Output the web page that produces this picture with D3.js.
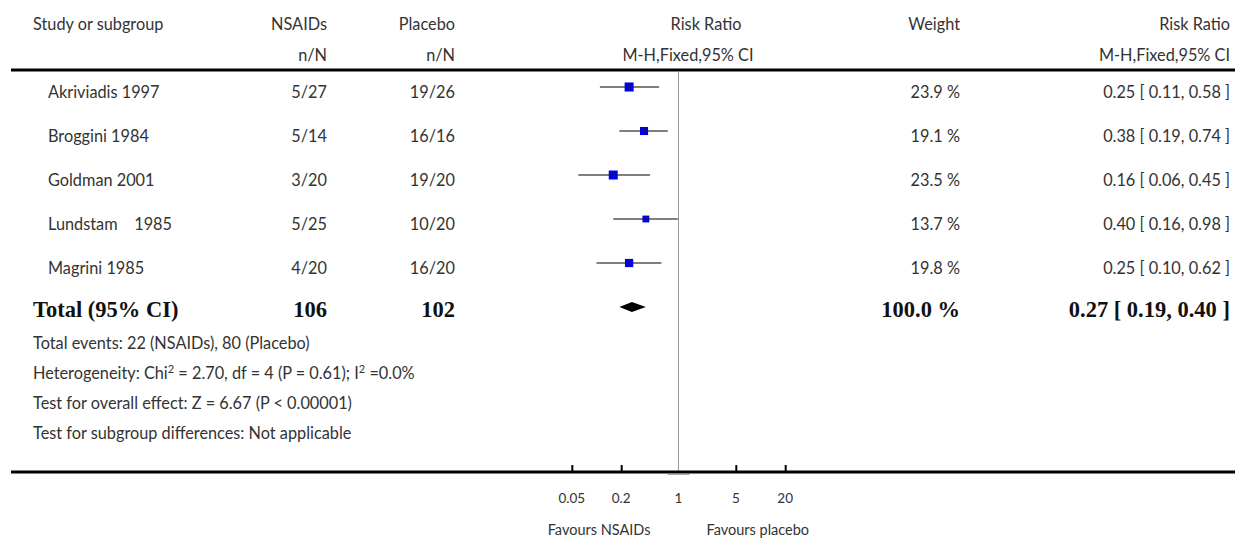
<!DOCTYPE html>
<html>
<head>
<meta charset="utf-8">
<script src="https://cdn.jsdelivr.net/npm/d3@7"></script>
<style>
  body { margin: 0; background: #fff; }
  svg text { font-family: Lato, "Open Sans", sans-serif; fill: #333; white-space: pre; }
  svg text.bold { font-family: "Liberation Serif", serif; font-weight: bold; fill: #111; }
</style>
</head>
<body>
<svg id="plot" width="1235" height="540"></svg>
<script>
const studies = ['Akriviadis 1997', 'Broggini 1984', 'Goldman 2001', 'Lundstam    1985', 'Magrini 1985'];
const nsaidEvents = ['5/27', '5/14', '3/20', '5/25', '4/20'];
const placeboEvents = ['19/26', '16/16', '19/20', '10/20', '16/20'];
const riskRatio = [0.25, 0.38, 0.16, 0.40, 0.25];
const ciLow = [0.11, 0.19, 0.06, 0.16, 0.10];
const ciHigh = [0.58, 0.74, 0.45, 0.98, 0.62];
const weights = [23.9, 19.1, 23.5, 13.7, 19.8];

const total = { label: 'Total (95% CI)', nsaids: '106', placebo: '102', weight: '100.0 %', rr: 0.27, lo: 0.19, hi: 0.40 };
const notes = [
  'Total events: 22 (NSAIDs), 80 (Placebo)',
  'Heterogeneity: Chi² = 2.70, df = 4 (P = 0.61); I² =0.0%',
  'Test for overall effect: Z = 6.67 (P < 0.00001)',
  'Test for subgroup differences: Not applicable'
];
const tickValues = [0.05, 0.2, 1, 5, 20];
const tickLabels = ['0.05', '0.2', '1', '5', '20'];

const svg = d3.select('#plot');
const fmt = d3.format('.2f');

// columns
const colStudy = 33, colStudyIndent = 48, colNsaid = 327, colPlacebo = 455, colWeight = 960, colRR = 1230;
const rowY = d3.scalePoint().domain(d3.range(studies.length + 1)).range([87, 307]);
const topRule = 70, axisY = 472;
const fs = 16.3, bfs = 22.5;

const x = d3.scaleLog().domain([0.01, 100]).range([514.5, 842.5]);

function txt(xp, yp, s, anchor, size, cls) {
  return svg.append('text')
    .attr('x', xp).attr('y', yp)
    .attr('text-anchor', anchor || 'start')
    .attr('font-size', size || fs)
    .attr('class', cls || null)
    .text(s);
}

// header
txt(colStudy, 30, 'Study or subgroup');
txt(colNsaid, 30, 'NSAIDs', 'end');
txt(colPlacebo, 30, 'Placebo', 'end');
txt(706, 30, 'Risk Ratio', 'middle');
txt(colWeight, 30, 'Weight', 'end');
txt(colRR, 30, 'Risk Ratio', 'end');
txt(colNsaid, 61, 'n/N', 'end');
txt(colPlacebo, 61, 'n/N', 'end');
txt(688, 61, 'M-H,Fixed,95% CI', 'middle');
txt(colRR, 61, 'M-H,Fixed,95% CI', 'end');

// rules
svg.append('line').attr('x1', 11).attr('x2', 1235).attr('y1', topRule).attr('y2', topRule)
  .attr('stroke', '#000').attr('stroke-width', 3);

// line of no effect
svg.append('line').attr('x1', x(1)).attr('x2', x(1)).attr('y1', topRule + 1).attr('y2', axisY)
  .attr('stroke', '#999').attr('stroke-width', 1);

// study rows
studies.forEach((s, i) => {
  const y = rowY(i);
  txt(colStudyIndent, y + 11, s);
  txt(colNsaid, y + 11, nsaidEvents[i], 'end');
  txt(colPlacebo, y + 11, placeboEvents[i], 'end');
  txt(colWeight, y + 11, weights[i].toFixed(1) + ' %', 'end');
  txt(colRR, y + 11, `${fmt(riskRatio[i])} [ ${fmt(ciLow[i])}, ${fmt(ciHigh[i])} ]`, 'end');
});

const g = svg.append('g');
g.selectAll('.ci').data(studies).enter().append('line')
  .attr('class', 'ci')
  .attr('x1', (d, i) => x(ciLow[i])).attr('x2', (d, i) => x(ciHigh[i]))
  .attr('y1', (d, i) => rowY(i)).attr('y2', (d, i) => rowY(i))
  .attr('stroke', '#555').attr('stroke-width', 1.4);

const side = w => 1.85 * Math.sqrt(w);
g.selectAll('.box').data(studies).enter().append('rect')
  .attr('class', 'box')
  .attr('x', (d, i) => x(riskRatio[i]) - side(weights[i]) / 2)
  .attr('y', (d, i) => rowY(i) - side(weights[i]) / 2)
  .attr('width', (d, i) => side(weights[i]))
  .attr('height', (d, i) => side(weights[i]))
  .attr('fill', '#0000ee');

g.selectAll('.mark').data(studies).enter().append('path')
  .attr('class', 'mark')
  .attr('d', (d, i) => {
    const cx = x(riskRatio[i]), cy = rowY(i);
    return `M${cx - 3},${cy}H${cx + 3}M${cx},${cy - 3}V${cy + 3}`;
  })
  .attr('stroke', '#222').attr('stroke-width', 0.8);

// total row
const ty = rowY(studies.length);
txt(colStudy, ty + 10, total.label, 'start', bfs, 'bold');
txt(colNsaid, ty + 10, total.nsaids, 'end', bfs, 'bold');
txt(colPlacebo, ty + 10, total.placebo, 'end', bfs, 'bold');
txt(colWeight, ty + 10, total.weight, 'end', bfs, 'bold');
txt(colRR, ty + 10, `${fmt(total.rr)} [ ${fmt(total.lo)}, ${fmt(total.hi)} ]`, 'end', bfs, 'bold');

svg.append('path')
  .attr('d', `M${x(total.lo)},${ty}L${x(total.rr)},${ty - 5}L${x(total.hi)},${ty}L${x(total.rr)},${ty + 5}Z`)
  .attr('fill', '#000');

// notes, with superscript 2s
notes.forEach((n, i) => {
  const t = txt(colStudy, 349 + i * 30, '', 'start', fs);
  const parts = n.split('²');
  parts.forEach((part, k) => {
    t.append('tspan').attr('dy', k > 0 ? 6 : 0).text(part);
    if (k < parts.length - 1) {
      t.append('tspan').attr('font-size', 11).attr('dy', -6).text('2');
    }
  });
});

// bottom axis
svg.append('line').attr('x1', 11).attr('x2', 1235).attr('y1', axisY).attr('y2', axisY)
  .attr('stroke', '#000').attr('stroke-width', 3);
svg.append('line').attr('x1', x(1) - 11).attr('x2', x(1) + 11).attr('y1', axisY + 2.5).attr('y2', axisY + 2.5)
  .attr('stroke', '#aaa').attr('stroke-width', 1);

const axis = d3.axisTop(x).tickValues(tickValues.filter(v => v !== 1)).tickSize(7).tickFormat('');
svg.append('g').attr('transform', `translate(0,${axisY})`).call(axis)
  .call(a => a.select('.domain').remove())
  .call(a => a.selectAll('line').attr('stroke', '#000').attr('stroke-width', 2));

svg.selectAll('.tickLabel').data(tickValues).enter().append('text')
  .attr('class', 'tickLabel')
  .attr('x', d => x(d)).attr('y', 503)
  .attr('text-anchor', 'middle').attr('font-size', 13.5)
  .text((d, i) => tickLabels[i]);

txt(x(1) - 28, 535, 'Favours NSAIDs', 'end', 14.5);
txt(x(1) + 28, 535, 'Favours placebo', 'start', 14.5);
</script>
</body>
</html>
